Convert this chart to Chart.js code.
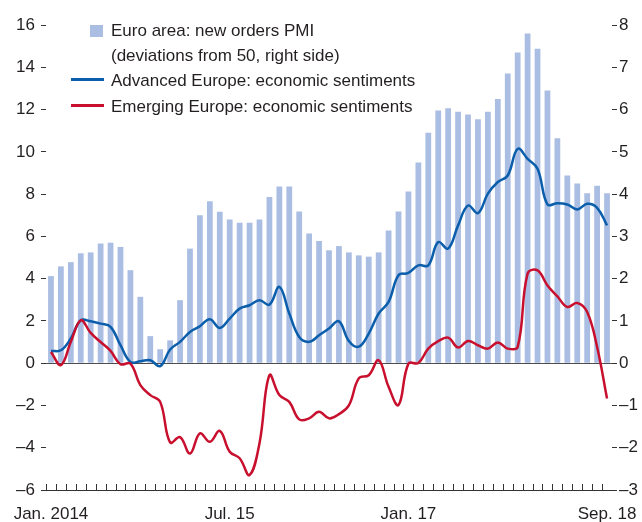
<!DOCTYPE html>
<html>
<head>
<meta charset="utf-8">
<script src="https://cdn.jsdelivr.net/npm/chart.js@4.4.1/dist/chart.umd.min.js"></script>
<style>
  body { margin: 0; background: #fff; }
  #wrap { position: relative; width: 642px; height: 522px; }
  .legend { position: absolute; font: 17px "Liberation Sans", Arial, sans-serif; color: #231f20; line-height: 20px; white-space: nowrap; }
  .mark { position: absolute; }
</style>
</head>
<body>
<div id="wrap">
  <canvas id="chart"></canvas>
  <div class="mark" style="left:90px;top:25px;width:13px;height:12px;background:#aabde2"></div>
  <div class="legend" style="left:111px;top:21px">Euro area: new orders PMI</div>
  <div class="legend" style="left:111px;top:46px">(deviations from 50, right side)</div>
  <div class="mark" style="left:71px;top:78px;width:33px;height:3px;background:#0a5eab"></div>
  <div class="legend" style="left:111px;top:71px">Advanced Europe: economic sentiments</div>
  <div class="mark" style="left:71px;top:104px;width:33px;height:3px;background:#c8102e"></div>
  <div class="legend" style="left:111px;top:97px">Emerging Europe: economic sentiments</div>
</div>
<script>
// months Jan 2014 .. Sep 2018
const months = [
  'Jan 14','Feb 14','Mar 14','Apr 14','May 14','Jun 14','Jul 14','Aug 14','Sep 14','Oct 14','Nov 14','Dec 14',
  'Jan 15','Feb 15','Mar 15','Apr 15','May 15','Jun 15','Jul 15','Aug 15','Sep 15','Oct 15','Nov 15','Dec 15',
  'Jan 16','Feb 16','Mar 16','Apr 16','May 16','Jun 16','Jul 16','Aug 16','Sep 16','Oct 16','Nov 16','Dec 16',
  'Jan 17','Feb 17','Mar 17','Apr 17','May 17','Jun 17','Jul 17','Aug 17','Sep 17','Oct 17','Nov 17','Dec 17',
  'Jan 18','Feb 18','Mar 18','Apr 18','May 18','Jun 18','Jul 18','Aug 18','Sep 18'
];

// euro area new orders PMI, deviation from 50 (right axis)
const pmi = [
  2.06, 2.29, 2.39, 2.6, 2.62, 2.83, 2.85, 2.75, 2.2, 1.57, 0.64, 0.33,
  0.54, 1.49, 2.71, 3.5, 3.83, 3.58, 3.4, 3.32, 3.32, 3.4, 3.93, 4.18,
  4.18, 3.59, 3.07, 2.89, 2.67, 2.77, 2.62, 2.55, 2.52, 2.62, 3.14, 3.59,
  4.06, 4.75, 5.45, 5.98, 6.03, 5.95, 5.88, 5.77, 5.95, 6.25, 6.85, 7.35,
  7.8, 7.44, 6.45, 5.32, 4.44, 4.25, 4.02, 4.2, 4.02
];

// economic sentiments (left axis)
const advanced = [
  0.58, 0.61, 1.17, 2.03, 1.98, 1.87, 1.72, 0.85, 0.06, 0.09, 0.14, -0.14,
  0.65, 1.01, 1.48, 1.75, 2.08, 1.67, 2.11, 2.58, 2.74, 2.98, 2.77, 3.61,
  2.35, 1.24, 1.01, 1.32, 1.64, 1.98, 1.05, 0.78, 1.4, 2.35, 2.9, 4.16,
  4.27, 4.63, 4.63, 5.73, 5.42, 6.52, 7.46, 7.1, 8.02, 8.57, 8.88, 10.14,
  9.67, 9.2, 7.51, 7.57, 7.51, 7.27, 7.54, 7.35, 6.52
];
const emerging = [
  0.53, -0.09, 1.0, 2.03, 1.43, 1.0, 0.58, -0.05, -0.02, -1.04, -1.51, -1.83,
  -3.75, -3.5, -4.27, -3.32, -3.72, -3.2, -4.19, -4.5, -5.29, -3.79, -0.57, -1.51,
  -1.83, -2.66, -2.61, -2.3, -2.61, -2.41, -2.0, -0.72, -0.57, 0.14, -1.12, -1.98,
  -0.02, 0.01, 0.69, 1.04, 1.21, 0.74, 1.05, 0.85, 0.69, 0.98, 0.69, 0.77,
  4.24, 4.39, 3.68, 3.16, 2.66, 2.85, 2.42, 0.77, -1.67
];

const xTickMonths = ['Jan 14', 'Jul 15', 'Jan 17', 'Sep 18'];
const xTickLabels = ['Jan. 2014', 'Jul. 15', 'Jan. 17', 'Sep. 18'];

const FONT = { family: '"Liberation Sans", Arial, sans-serif', size: 17 };
const INK = '#231f20';

const dash = v => (v < 0 ? '\u2013' + Math.abs(v) : String(v));

// small upward month ticks on the x axis
const monthTicks = {
  id: 'monthTicks',
  afterDatasetsDraw(chart) {
    const { ctx, chartArea, scales: { x } } = chart;
    const half = (x.getPixelForValue(1) - x.getPixelForValue(0)) / 2;
    ctx.save();
    ctx.strokeStyle = '#333';
    ctx.lineWidth = 1;
    ctx.beginPath();
    for (let i = 0; i < months.length; i++) {
      const px = Math.round(x.getPixelForValue(i) - half) + 0.5;
      ctx.moveTo(px, chartArea.bottom);
      ctx.lineTo(px, chartArea.bottom - 6);
    }
    ctx.stroke();
    ctx.restore();
  }
};

new Chart(document.getElementById('chart'), {
  type: 'bar',
  data: {
    labels: months,
    datasets: [
      {
        type: 'line',
        label: 'Emerging Europe: economic sentiments',
        data: emerging,
        yAxisID: 'y',
        borderColor: '#c8102e',
        borderWidth: 2.5,
        pointRadius: 0,
        tension: 0.4,
        order: 0
      },
      {
        type: 'line',
        label: 'Advanced Europe: economic sentiments',
        data: advanced,
        yAxisID: 'y',
        borderColor: '#0a5eab',
        borderWidth: 2.5,
        pointRadius: 0,
        tension: 0.4,
        order: 1
      },
      {
        label: 'Euro area: new orders PMI',
        data: pmi,
        yAxisID: 'y1',
        backgroundColor: '#aabde2',
        barPercentage: 0.58,
        categoryPercentage: 1,
        order: 2
      }
    ]
  },
  options: {
    responsive: true,
    maintainAspectRatio: false,
    animation: false,
    layout: { padding: { top: 25, left: 0, right: 0, bottom: 0 } },
    plugins: {
      legend: { display: false },
      tooltip: { enabled: false }
    },
    scales: {
      x: {
        grid: { display: false, drawTicks: false },
        border: { display: true, color: '#333', width: 1 },
        ticks: {
          autoSkip: false,
          maxRotation: 0,
          padding: 14,
          color: INK,
          font: FONT,
          callback: (v, i) => {
            const k = xTickMonths.indexOf(months[i]);
            return k >= 0 ? xTickLabels[k] : '';
          }
        },
        afterFit: s => {
          s.height = 32;
          s.paddingLeft = 0;
          s.paddingRight = 0;
        }
      },
      y: {
        position: 'left',
        min: -6,
        max: 16,
        border: { display: false },
        grid: {
          color: c => (c.tick && c.tick.value === 0 ? '#4d4d4d' : 'rgba(0,0,0,0)'),
          tickColor: '#333',
          tickLength: 5
        },
        ticks: { stepSize: 2, padding: 6, color: INK, font: FONT, callback: dash },
        afterFit: s => { s.width = 46; }
      },
      y1: {
        position: 'right',
        min: -3,
        max: 8,
        border: { display: false },
        grid: { drawOnChartArea: false, tickColor: '#333', tickLength: 5 },
        ticks: { stepSize: 1, padding: 2, color: INK, font: FONT, callback: dash },
        afterFit: s => { s.width = 30; }
      }
    }
  },
  plugins: [monthTicks]
});
</script>
</body>
</html>
